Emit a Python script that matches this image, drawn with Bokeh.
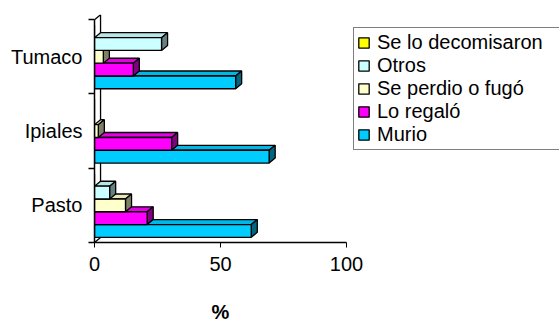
from bokeh.plotting import figure
from bokeh.models import (ColumnDataSource, Range1d, FixedTicker, Legend, LegendItem)
from bokeh.embed import file_html
from bokeh.resources import INLINE

# ---- data ----
categories = ["Pasto", "Ipiales", "Tumaco"]
series_names = ["Murio", "Lo regaló", "Se perdio o fugó", "Otros", "Se lo decomisaron"]
murio = [62.2, 69.3, 56.0]
lo_regalo = [20.9, 30.6, 15.4]
se_perdio = [12.3, 1.5, 3.5]
otros = [6.0, 0.0, 26.6]
decomisaron = [0.0, 0.0, 0.0]
x_ticks = [0, 50, 100]
x_label = "%"

series_values = [murio, lo_regalo, se_perdio, otros, decomisaron]
front_colors = ["#00CCFF", "#FF00FF", "#FFFFCC", "#CCFFFF", "#FFFF00"]
side_colors = ["#006680", "#800080", "#808066", "#668080", "#808000"]
top_colors = ["#00B8E6", "#E600E6", "#E6E6B8", "#B8E6E6", "#E6E600"]

FONT = "Liberation Sans"
DX = 2.4     # 3D depth in x data units
DY = 0.067   # 3D depth in y data units
SLOT = 0.172 # bar thickness in category units

p = figure(frame_width=252, frame_height=228, output_backend="svg", toolbar_location=None,
           x_range=Range1d(0, 100), y_range=Range1d(0, 3.07),
           min_border_left=94, min_border_right=213, min_border_top=14,
           min_border_bottom=80)
p.outline_line_color = None
p.grid.visible = False
p.background_fill_color = "white"
p.border_fill_color = "white"

# back wall lines
p.segment(x0=[DX, 0, 0], y0=[DY, 3, 0], x1=[DX, DX, DX], y1=[3 + DY, 3 + DY, DY],
          line_color="black", line_width=1.3)

legend_items = []
for i, (name, vals) in enumerate(zip(series_names, series_values)):
    off = (i - 2) * SLOT
    ys = [k + 0.5 + off for k in range(len(categories))]
    top_xs, top_ys, side_xs, side_ys = [], [], [], []
    for y, v in zip(ys, vals):
        if v <= 0:
            continue
        b, t = y - SLOT / 2, y + SLOT / 2
        top_xs.append([0, v, v + DX, DX])
        top_ys.append([t, t, t + DY, t + DY])
        side_xs.append([v, v + DX, v + DX, v])
        side_ys.append([b, b + DY, t + DY, t])
    if top_xs:
        p.patches(top_xs, top_ys, fill_color=top_colors[i], line_color="black", line_width=1.3)
        p.patches(side_xs, side_ys, fill_color=side_colors[i], line_color="black", line_width=1.3)
    src = ColumnDataSource(dict(y=ys, right=vals))
    r = p.hbar(y="y", left=0, right="right", height=SLOT, source=src,
               fill_color=front_colors[i], line_color="black", line_width=1.3)
    legend_items.append(LegendItem(label=name, renderers=[r]))

# axes
xa = p.xaxis[0]
xa.ticker = FixedTicker(ticks=x_ticks)
xa.bounds = (0, 100)
xa.axis_line_width = 1.5
xa.major_tick_in = 0
xa.major_tick_out = 5
xa.minor_tick_line_color = None
xa.major_label_text_font = FONT
xa.major_label_text_font_size = "20px"
xa.major_label_text_color = "black"
xa.major_label_standoff = 9
xa.axis_label = x_label
xa.axis_label_text_font = FONT
xa.axis_label_text_font_size = "20px"
xa.axis_label_text_font_style = "bold"
xa.axis_label_text_color = "black"
xa.axis_label_standoff = 27

ya = p.yaxis[0]
ya.ticker = FixedTicker(ticks=[0.5, 1.5, 2.5], minor_ticks=[0, 1, 2, 3])
ya.major_label_overrides = {0.5: categories[0], 1.5: categories[1], 2.5: categories[2]}
ya.bounds = (0, 3)
ya.axis_line_width = 1.5
ya.major_tick_in = 0
ya.major_tick_out = 0
ya.minor_tick_in = 0
ya.minor_tick_out = 6
ya.minor_tick_line_color = "black"
ya.minor_tick_line_width = 1.5
ya.major_label_text_font = FONT
ya.major_label_text_font_size = "20px"
ya.major_label_text_color = "black"
ya.major_label_standoff = 6

legend = Legend(items=list(reversed(legend_items)), location=(7, 92),
                label_text_font=FONT, label_text_font_size="20px",
                label_text_color="black", glyph_width=13, glyph_height=13,
                label_height=20, label_width=184, label_standoff=7, spacing=0,
                padding=3, margin=0,
                border_line_color="black", border_line_width=1.5,
                background_fill_color="white", background_fill_alpha=1.0)
p.add_layout(legend, "right")

open("out.html", "w").write(file_html(p, INLINE))
